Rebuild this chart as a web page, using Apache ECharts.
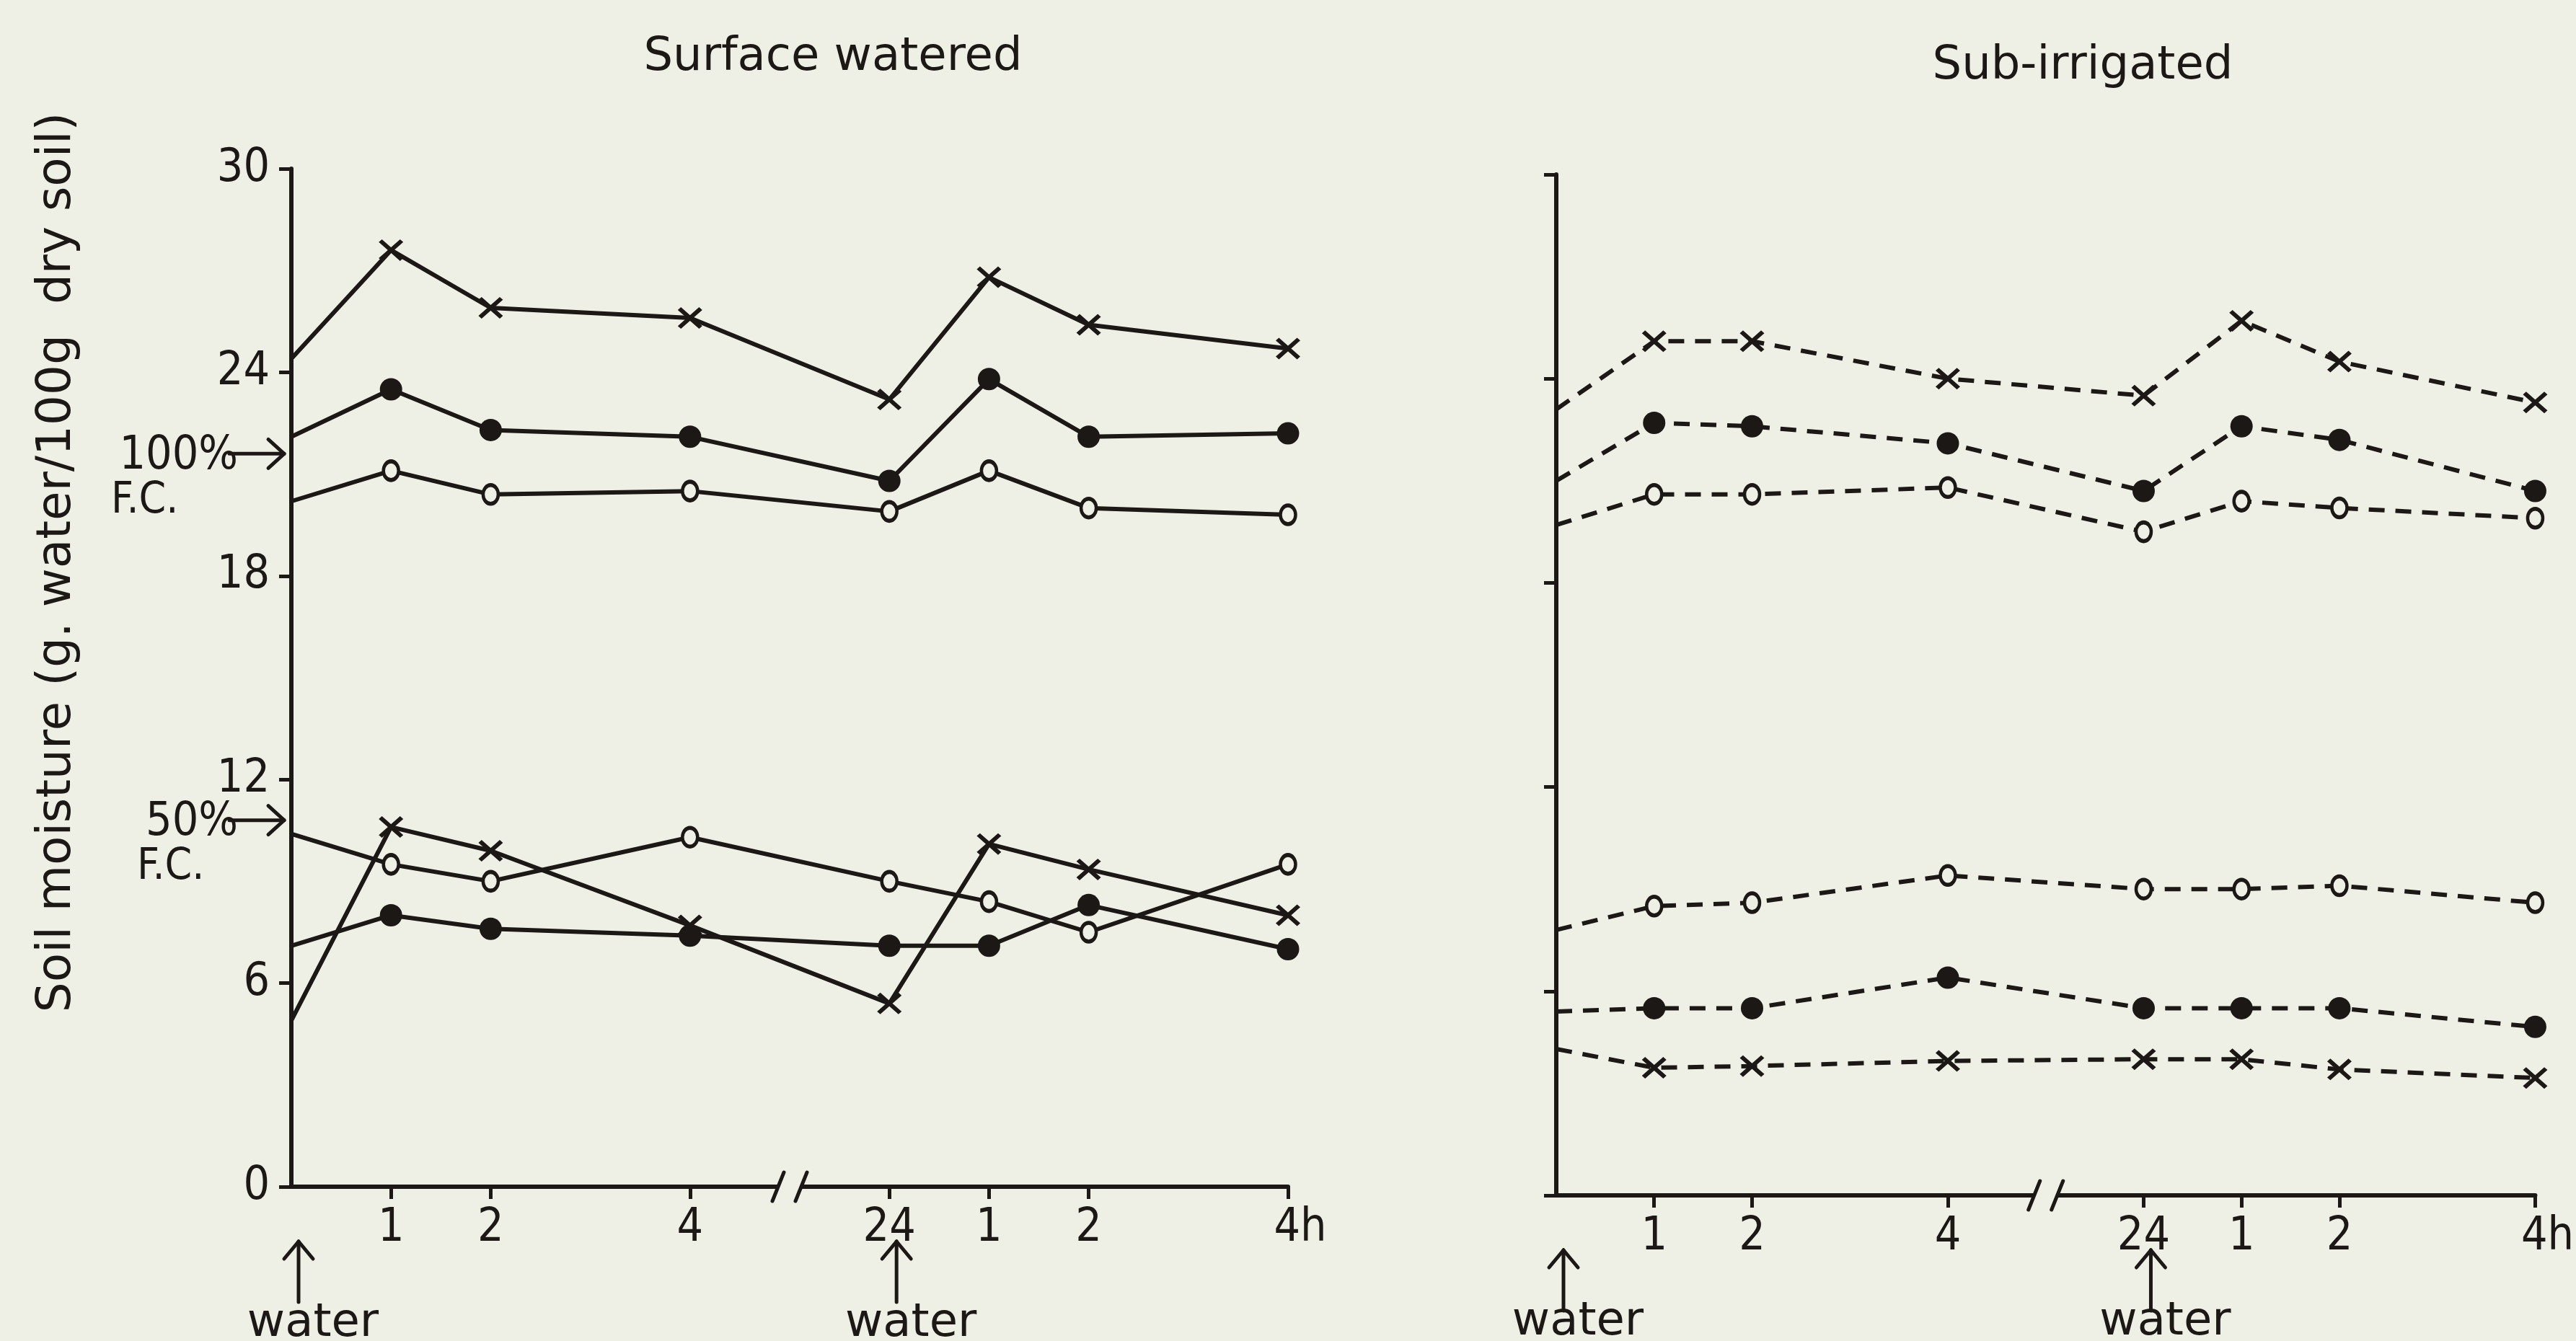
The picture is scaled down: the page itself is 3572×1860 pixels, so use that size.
<!DOCTYPE html>
<html>
<head>
<meta charset="utf-8">
<title>Soil moisture</title>
<script src="https://cdn.jsdelivr.net/npm/echarts@6/dist/echarts.min.js"></script>
<style>
  html, body { margin: 0; padding: 0; background: #eef0e5; }
  #chart { width: 3572px; height: 1860px; }
</style>
</head>
<body>
<div id="chart"></div>
<script>
// x position of each sample: 0 = watering, 1, 2, 4 h, (break), 24 h = 6, then 1, 2, 4 h after re-watering
var timePos = [0, 1, 2, 4, 6, 7, 8, 10];
var tickPos = [1, 2, 4, 6, 7, 8, 10];
var tickText = ['1', '2', '4', '24', '1', '2', '4h'];
var yTicks = [0, 6, 12, 18, 24, 30];
var waterAt = [0, 6];

// Surface watered (solid lines)
var surfCrossHigh = [24.4, 27.6, 25.9, 25.6, 23.2, 26.8, 25.4, 24.7];
var surfDotHigh   = [22.1, 23.5, 22.3, 22.1, 20.8, 23.8, 22.1, 22.2];
var surfRingHigh  = [20.2, 21.1, 20.4, 20.5, 19.9, 21.1, 20.0, 19.8];
var surfCrossLow  = [4.9, 10.6, 9.9, 7.7, 5.4, 10.1, 9.35, 8.0];
var surfRingLow   = [10.4, 9.5, 9.0, 10.3, 9.0, 8.4, 7.5, 9.5];
var surfDotLow    = [7.1, 8.0, 7.6, 7.4, 7.1, 7.1, 8.3, 7.0];

// Sub-irrigated (dashed lines)
var subCrossHigh = [23.1, 25.1, 25.1, 24.0, 23.5, 25.7, 24.5, 23.3];
var subDotHigh   = [21.0, 22.7, 22.6, 22.1, 20.7, 22.6, 22.2, 20.7];
var subRingHigh  = [19.7, 20.6, 20.6, 20.8, 19.5, 20.4, 20.2, 19.9];
var subRingLow   = [7.8, 8.5, 8.6, 9.4, 9.0, 9.0, 9.1, 8.6];
var subDotLow    = [5.4, 5.5, 5.5, 6.4, 5.5, 5.5, 5.5, 4.95];
var subCrossLow  = [4.3, 3.75, 3.8, 3.95, 4.0, 4.0, 3.7, 3.45];

// field capacity marks on the left axis
var fc100 = 21.6;
var fc50 = 10.8;

var INK = '#1c1816';
var BG = '#eef0e5';
var FONT = '"DejaVu Sans Condensed", "DejaVu Sans", sans-serif';
var WIDE = '"DejaVu Sans", sans-serif';

var myChart = echarts.init(document.getElementById('chart'));

var crossPath = 'path://M0,2.6L2.6,0L20,17.4L17.4,20ZM17.4,0L20,2.6L2.6,20L0,17.4Z';

function makeSeries(values, grid, mark, dashed) {
    var s = {
        type: 'line',
        xAxisIndex: grid,
        yAxisIndex: grid,
        data: timePos.map(function (t, i) {
            // the lines start at the axis without a marker
            return i === 0 ? { value: [t, values[i]], symbol: 'none' } : [t, values[i]];
        }),
        lineStyle: { color: INK, width: 6, type: dashed ? [22, 15] : 'solid' },
        emphasis: { disabled: true },
        z: 3
    };
    if (mark === 'cross') {
        s.symbol = crossPath;
        s.symbolSize = [34, 30];
        s.itemStyle = { color: INK };
    } else if (mark === 'dot') {
        s.symbol = 'circle';
        s.symbolSize = 31;
        s.itemStyle = { color: INK };
    } else {
        s.symbol = 'circle';
        s.symbolSize = [21, 26];
        s.itemStyle = { color: BG, borderColor: INK, borderWidth: 5 };
    }
    return s;
}

function xAxisFor(grid) {
    return {
        type: 'value', gridIndex: grid, min: 0, max: 10, interval: 1,
        axisLine: { lineStyle: { color: INK, width: 6 } },
        axisTick: { customValues: tickPos, length: 17, lineStyle: { color: INK, width: 5 } },
        axisLabel: {
            customValues: tickPos,
            margin: 26,
            color: INK, fontSize: 64, fontFamily: FONT,
            formatter: function (v) {
                var i = tickPos.indexOf(v);
                if (i < 0) return '';
                return tickText[i] === '4h' ? '{p|}4h' : tickText[i];
            },
            rich: { p: { width: 34 } }
        },
        splitLine: { show: false }
    };
}

function yAxisFor(grid, labels) {
    return {
        type: 'value', gridIndex: grid, min: 0, max: 30, interval: 6,
        axisLine: { show: true, lineStyle: { color: INK, width: 6 } },
        axisTick: { show: true, customValues: yTicks, length: 17, lineStyle: { color: INK, width: 5 } },
        axisLabel: { show: labels, customValues: yTicks, margin: 30, color: INK, fontSize: 64, fontFamily: FONT },
        splitLine: { show: false }
    };
}

var option = {
    animation: false,
    backgroundColor: BG,
    grid: [
        { left: 404, top: 234, width: 1382, height: 1412 },
        { left: 2158, top: 242, width: 1362, height: 1416 }
    ],
    xAxis: [xAxisFor(0), xAxisFor(1)],
    yAxis: [yAxisFor(0, true), yAxisFor(1, false)],
    series: [
        makeSeries(surfCrossHigh, 0, 'cross', false),
        makeSeries(surfDotHigh, 0, 'dot', false),
        makeSeries(surfRingHigh, 0, 'ring', false),
        makeSeries(surfCrossLow, 0, 'cross', false),
        makeSeries(surfRingLow, 0, 'ring', false),
        makeSeries(surfDotLow, 0, 'dot', false),
        makeSeries(subCrossHigh, 1, 'cross', true),
        makeSeries(subDotHigh, 1, 'dot', true),
        makeSeries(subRingHigh, 1, 'ring', true),
        makeSeries(subRingLow, 1, 'ring', true),
        makeSeries(subDotLow, 1, 'dot', true),
        makeSeries(subCrossLow, 1, 'cross', true)
    ]
};

myChart.setOption(option);

// annotations placed from the axes
function txt(text, x, y, size, align, font, extra) {
    var g = {
        type: 'text', x: x, y: y, z: 10,
        style: { text: text, fill: INK, fontSize: size, fontFamily: font || FONT, align: align || 'center', verticalAlign: 'middle' }
    };
    if (extra) for (var k in extra) g[k] = extra[k];
    return g;
}
function seg(x1, y1, x2, y2) {
    return { type: 'line', z: 10, shape: { x1: x1, y1: y1, x2: x2, y2: y2 }, style: { stroke: INK, lineWidth: 5, lineCap: 'round' } };
}

var graphics = [];
graphics.push(txt('Surface watered', 1155, 80, 64, 'center', WIDE));
graphics.push(txt('Sub-irrigated', 2888, 92, 64, 'center', WIDE));
graphics.push(txt('Soil moisture (g. water/100g  dry soil)', 80, 780, 66, 'center', WIDE, { rotation: Math.PI / 2 }));

[[fc100, '100%', 250], [fc50, '50%', 214]].forEach(function (f) {
    var p = myChart.convertToPixel({ gridIndex: 0 }, [0, f[0]]);
    graphics.push(txt(f[1], p[0] - 74, p[1] + 4, 64, 'right'));
    graphics.push(seg(p[0] - 86, p[1], p[0] - 10, p[1]));
    graphics.push(seg(p[0] - 32, p[1] - 20, p[0] - 10, p[1]));
    graphics.push(seg(p[0] - 32, p[1] + 20, p[0] - 10, p[1]));
    graphics.push(txt('F.C.', p[0] - f[2], p[1] + 66, 60, 'left'));
});

[0, 1].forEach(function (g) {
    waterAt.forEach(function (t) {
        var p = myChart.convertToPixel({ gridIndex: g }, [t, 0]);
        var ax = p[0] + 10;
        var top = p[1] + 76;
        graphics.push(seg(ax, top, ax, p[1] + 160));
        graphics.push(seg(ax - 20, top + 24, ax, top));
        graphics.push(seg(ax + 20, top + 24, ax, top));
        graphics.push(txt('water', ax + 20, p[1] + (g ? 176 : 190), 64, 'center', WIDE));
    });
    // axis break
    var b = myChart.convertToPixel({ gridIndex: g }, [5, 0]);
    graphics.push({ type: 'rect', z: 9, shape: { x: b[0] - 15, y: b[1] - 8, width: 30, height: 16 }, style: { fill: BG } });
    graphics.push(seg(b[0] - 24, b[1] + 20, b[0] - 8, b[1] - 20));
    graphics.push(seg(b[0] + 8, b[1] + 20, b[0] + 24, b[1] - 20));
});

myChart.setOption({ graphic: graphics });
</script>
</body>
</html>
